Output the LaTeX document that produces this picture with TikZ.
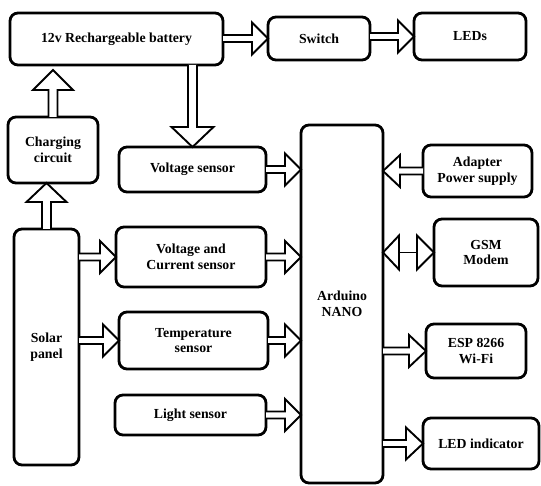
\documentclass[tikz,border=0pt]{standalone}
\usepackage{fontspec}
\setmainfont{Liberation Serif}
\usetikzlibrary{calc}
\newcommand\bx[6]{%
  \node[box, minimum width={(#4-#2)*1pt}, minimum height={(#5-#3)*1pt}] (#1) at ({(#2+#4)/2},{(#3+#5)/2}) {#6};}
% block arrow: start, end, head length, head half width, shaft half width
\newcommand\barr[5]{%
  \coordinate (hb) at ($(#2)!#3!(#1)$);
  \draw[arr] ($(#1)!#5!90:(#2)$) -- ($(hb)!#5!90:(#2)$) -- ($(hb)!#4!90:(#2)$) -- (#2)
    -- ($(hb)!#4!-90:(#2)$) -- ($(hb)!#5!-90:(#2)$) -- ($(#1)!#5!-90:(#2)$);}
\begin{document}
\begin{tikzpicture}[x=1pt,y=-1pt,
  box/.style={draw, line width=2.8pt, rounded corners=8pt, fill=white, align=center,
    inner sep=0pt, outer sep=0pt, font=\fontsize{13.8}{15.5}\selectfont\bfseries},
  arr/.style={draw, line width=1.9pt, line join=miter, fill=white}]
\useasboundingbox (0,0) rectangle (541,486);
\bx{bat}{10}{13}{223}{65}{12v Rechargeable battery}
\bx{sw}{268}{17}{370}{60}{Switch}
\bx{leds}{414}{13}{526}{60}{LEDs}
\bx{chg}{8}{117}{98}{183}{Charging\\circuit}
\bx{vs}{119}{147}{266}{192}{Voltage sensor}
\bx{vc}{116}{227}{266}{287}{Voltage and\\Current sensor}
\bx{tmp}{119}{312}{268}{369}{Temperature\\sensor}
\bx{lt}{115}{395}{266}{435}{Light sensor}
\bx{sol}{14}{229}{79}{465}{Solar\\panel}
\bx{ard}{301}{125}{383}{483}{Arduino\\NANO}
\bx{adp}{423}{145}{532}{197}{Adapter\\Power supply}
\bx{gsm}{434}{219}{538}{286}{GSM\\Modem}
\bx{esp}{426}{324}{526}{378}{ESP 8266\\Wi-Fi}
\bx{ledi}{423}{418}{539}{469}{LED indicator}
% top row
\coordinate (a1) at (bat.east |- sw.west);
\barr{a1}{sw.west}{16pt}{16pt}{3.5pt}
\coordinate (a2) at (sw.east |- leds.west);
\barr{a2}{leds.west}{16pt}{16pt}{3.5pt}
% vertical arrows
\coordinate (c1) at ([yshift=-5pt]chg.north |- bat.south);
\barr{chg.north}{c1}{20pt}{20pt}{4.5pt}
\coordinate (c2) at (sol.north |- chg.south);
\barr{sol.north}{c2}{19pt}{20pt}{4.5pt}
\coordinate (c3) at (vs.north |- bat.south);
\barr{c3}{vs.north}{20pt}{21pt}{4.5pt}
% solar to sensors
\coordinate (s1) at (sol.east |- vc.west);
\barr{s1}{vc.west}{16pt}{16pt}{3.5pt}
\coordinate (s2) at (sol.east |- tmp.west);
\barr{s2}{tmp.west}{16pt}{16pt}{3.5pt}
% sensors to arduino
\coordinate (d1) at (vs.east -| ard.west);
\barr{vs.east}{d1}{16pt}{16pt}{3.5pt}
\coordinate (d2) at (vc.east -| ard.west);
\barr{vc.east}{d2}{16pt}{16pt}{3.5pt}
\coordinate (d3) at (tmp.east -| ard.west);
\barr{tmp.east}{d3}{16pt}{16pt}{3.5pt}
\coordinate (d4) at (lt.east -| ard.west);
\barr{lt.east}{d4}{16pt}{16pt}{3.5pt}
% right side
\coordinate (e1) at (adp.west -| ard.east);
\barr{adp.west}{e1}{17pt}{16pt}{3.5pt}
\coordinate (e2) at (esp.west -| ard.east);
\barr{e2}{esp.west}{17pt}{16pt}{3.5pt}
\coordinate (e3) at (ledi.west -| ard.east);
\barr{e3}{ledi.west}{17pt}{16pt}{3.5pt}
% GSM double arrow
\coordinate (gL) at (gsm.west -| ard.east);
\coordinate (gb1) at ($(gL)!16pt!(gsm.west)$);
\coordinate (gb2) at ($(gsm.west)!17pt!(gL)$);
\draw[arr] (gL) -- ($(gb1)!17pt!90:(gsm.west)$) -- ($(gb1)!17pt!-90:(gsm.west)$) -- cycle;
\draw[arr] (gsm.west) -- ($(gb2)!17pt!90:(gL)$) -- ($(gb2)!17pt!-90:(gL)$) -- cycle;
\draw[arr] (gb1) -- (gb2);
\end{tikzpicture}
\end{document}
